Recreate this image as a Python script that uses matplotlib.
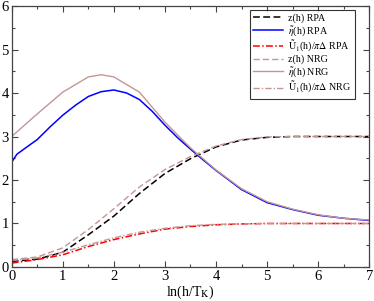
import matplotlib
matplotlib.use('Agg')
import matplotlib.pyplot as plt
import matplotlib as mpl

plt.rcParams['font.family'] = ['Liberation Serif', 'DejaVu Serif']
plt.rcParams['mathtext.fontset'] = 'stix'

# ln(h/T_K) grid for the z and U curves
x_zu = [0, 0.5, 1.0, 1.5, 2.0, 2.5, 3.0, 3.5, 4.0, 4.5, 5.0, 5.5, 6.0, 6.5, 7.0]
z_rpa = [0.13, 0.18, 0.34, 0.74, 1.17, 1.69, 2.15, 2.49, 2.76, 2.92, 2.98, 3.0, 3.0, 3.0, 3.0]
z_nrg = [0.17, 0.23, 0.44, 0.86, 1.34, 1.84, 2.24, 2.54, 2.78, 2.93, 2.99, 3.0, 3.0, 3.0, 3.0]
u_rpa = [0.09, 0.17, 0.28, 0.47, 0.63, 0.76, 0.87, 0.93, 0.97, 0.99, 1.0, 1.0, 1.0, 1.0, 1.0]
u_nrg = [0.15, 0.21, 0.34, 0.51, 0.67, 0.80, 0.89, 0.95, 0.98, 0.99, 1.0, 1.0, 1.0, 1.0, 1.0]

# eta RPA
x_eta = [0, 0.1, 0.25, 0.5, 0.75, 1.0, 1.25, 1.5, 1.75, 2.0, 2.25, 2.5, 2.75,
         3.0, 3.25, 3.5, 3.75, 4.0, 4.5, 5.0, 5.5, 6.0, 6.5, 7.0]
eta_rpa = [2.41, 2.59, 2.72, 2.93, 3.22, 3.49, 3.72, 3.92, 4.03, 4.07, 4.0, 3.85, 3.58,
           3.26, 2.97, 2.71, 2.46, 2.22, 1.78, 1.48, 1.32, 1.19, 1.12, 1.07]

# eta NRG (coarse points)
x_eta_nrg = [0, 0.5, 1.0, 1.5, 1.75, 2.0, 2.5, 3.0, 3.5, 4.0, 4.5, 5.0, 5.5, 6.0, 6.5, 7.0]
eta_nrg = [3.0, 3.52, 4.02, 4.37, 4.42, 4.37, 4.02, 3.33, 2.74, 2.23, 1.8, 1.5, 1.33, 1.2, 1.12, 1.08]

nrg_col = '#c39696'

fig = plt.figure(figsize=(3.74, 3.01), dpi=100)
ax = fig.add_axes([0.0313, 0.113, 0.956, 0.867])

ax.plot(x_zu, z_rpa, color='black', lw=1.1, dashes=(4.5, 2.2), label='z(h) RPA')
ax.plot(x_eta, eta_rpa, color='blue', lw=1.1, label=r'$\tilde{\eta}$(h) RPA')
ax.plot(x_zu, u_rpa, color='red', lw=1.1, dashes=(4.5, 1.5, 1, 1.5), label=r'$\tilde{\rm U}_1$(h)/$\pi\Delta$ RPA')
ax.plot(x_zu, z_nrg, color=nrg_col, lw=1.0, dashes=(4.5, 2.2), label='z(h) NRG')
ax.plot(x_eta_nrg, eta_nrg, color=nrg_col, lw=1.0, label=r'$\tilde{\eta}$(h) NRG')
ax.plot(x_zu, u_nrg, color=nrg_col, lw=1.0, dashes=(4.5, 1.5, 1, 1.5), label=r'$\tilde{\rm U}_1$(h)/$\pi\Delta$ NRG')

ax.set_xlim(0, 7)
ax.set_ylim(0, 6)
ax.xaxis.set_major_locator(mpl.ticker.MultipleLocator(1))
ax.xaxis.set_minor_locator(mpl.ticker.MultipleLocator(0.5))
ax.yaxis.set_major_locator(mpl.ticker.MultipleLocator(1))
ax.yaxis.set_minor_locator(mpl.ticker.MultipleLocator(0.5))
ax.tick_params(which='both', direction='in', top=True, right=True, labelsize=10.5, pad=2,
               color='#444444')
ax.tick_params(which='major', length=4.5, width=0.8)
ax.tick_params(which='minor', length=2.2, width=0.8)
for s in ax.spines.values():
    s.set_linewidth(0.9)
    s.set_color('#444444')

ax.set_xlabel(r'ln(h/T$_{\rm K}$)', fontsize=10, labelpad=1)

leg = ax.legend(loc='upper right', fontsize=7.2, frameon=True, fancybox=False,
                edgecolor='black', handlelength=3.0, labelspacing=0.1,
                borderpad=0.35, handletextpad=0.5, borderaxespad=0,
                bbox_to_anchor=(0.96, 0.985))
leg.get_frame().set_linewidth(0.8)

fig.savefig('out.png', dpi=100)
